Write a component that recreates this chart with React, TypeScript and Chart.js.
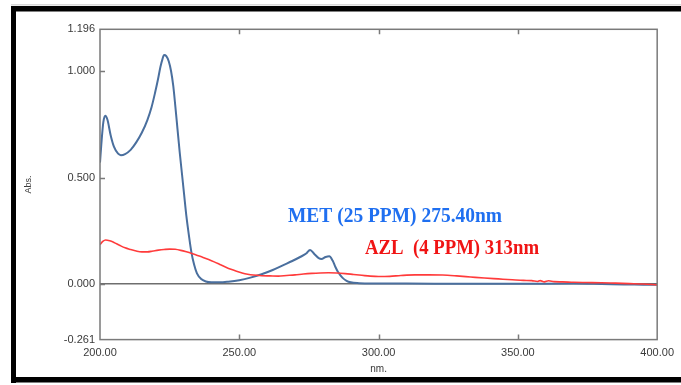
import React, { useEffect, useRef } from "react";
import { Chart, registerables } from "chart.js";

Chart.register(...registerables);

// ---- Data ----
const metWavelengths = [
  200.0, 200.5, 201.2, 201.9, 202.7, 203.8, 205.0, 206.5, 207.5, 209.0, 211.0, 213.0, 215.0, 217.0,
  218.5, 219.8, 220.8, 221.7, 222.4, 223.0, 223.8, 224.7, 225.5, 226.3, 227.0, 227.8, 228.6, 229.4,
  230.2, 231.0, 231.9, 232.8, 233.8, 234.8, 236.2, 238.0, 240.0, 243.0, 246.0, 250.0, 254.0, 258.0,
  262.0, 266.0, 269.0, 272.0, 274.0, 275.4, 277.0, 278.5, 279.5, 281.0, 282.3, 283.5, 284.5, 285.5,
  287.0, 288.5, 290.0, 293.0, 297.0, 310.0, 330.0, 350.0, 370.0, 380.0, 388.0, 395.0, 400.0,
];
const metAbsorbance = [
  0.57, 0.66, 0.76, 0.79, 0.77, 0.70, 0.645, 0.612, 0.605, 0.61, 0.63, 0.665, 0.71, 0.77,
  0.83, 0.90, 0.96, 1.02, 1.055, 1.075, 1.07, 1.045, 1.0, 0.93, 0.84, 0.73, 0.62, 0.52,
  0.42, 0.32, 0.23, 0.15, 0.09, 0.05, 0.025, 0.012, 0.008, 0.008, 0.011, 0.018, 0.03, 0.046,
  0.066, 0.09, 0.108, 0.128, 0.143, 0.16, 0.14, 0.122, 0.118, 0.127, 0.13, 0.11, 0.08, 0.055,
  0.03, 0.015, 0.008, 0.004, 0.002, 0.002, 0.001, 0.001, 0.002, 0.0, -0.002, -0.003, -0.004,
];

const azlWavelengths = [
  200.0, 201.0, 202.0, 203.5, 205.0, 207.0, 209.0, 211.0, 213.0, 215.0, 217.0, 219.0, 221.0, 223.0,
  225.0, 227.0, 229.0, 231.0, 233.0, 235.0, 237.0, 239.0, 241.0, 243.0, 245.0, 247.0, 249.0, 251.0,
  253.0, 255.0, 258.0, 261.0, 264.0, 267.0, 270.0, 273.0, 276.0, 279.0, 282.0, 285.0, 288.0, 291.0,
  294.0, 297.0, 300.0, 304.0, 308.0, 313.0, 318.0, 323.0, 328.0, 333.0, 338.0, 343.0, 348.0, 352.0,
  355.0, 357.0, 358.0, 359.5, 361.0, 363.0, 366.0, 370.0, 375.0, 380.0, 385.0, 390.0, 395.0, 400.0,
];
const azlAbsorbance = [
  0.185, 0.2, 0.207, 0.203, 0.195, 0.182, 0.17, 0.162, 0.155, 0.151, 0.151, 0.155, 0.159, 0.162,
  0.164, 0.163, 0.158, 0.151, 0.143, 0.134, 0.125, 0.115, 0.104, 0.092, 0.08, 0.069, 0.06, 0.052,
  0.046, 0.042, 0.039, 0.038, 0.037, 0.04, 0.043, 0.047, 0.05, 0.052, 0.053, 0.052, 0.049, 0.045,
  0.041, 0.037, 0.035, 0.036, 0.04, 0.043, 0.043, 0.042, 0.038, 0.033, 0.028, 0.024, 0.02, 0.017,
  0.016, 0.012, 0.016, 0.01, 0.015, 0.011, 0.01, 0.008, 0.007, 0.006, 0.004, 0.002, 0.0, -0.004,
];

const xTickValues = [200, 250, 300, 350, 400];
const yTickValues = [-0.261, 0, 0.5, 1.0, 1.196];
const innerTickXValues = [250, 300, 350];
const innerTickYValues = [0, 0.5, 1.0];

const metLabel = "MET (25 PPM) 275.40nm";
const azlLabel = "AZL  (4 PPM) 313nm";
const xTitle = "nm.";
const yTitle = "Abs.";

const SANS = '"Liberation Sans", Arial, sans-serif';
const SERIF = '"Liberation Serif", "Times New Roman", serif';
const TEXT_COLOR = "#3a3a3a";

const framePlugin = {
  id: "frame",
  beforeDraw(chart: any) {
    const ctx = chart.ctx;
    ctx.save();
    ctx.fillStyle = "#ffffff";
    ctx.fillRect(0, 0, chart.width, chart.height);
    ctx.fillStyle = "#d8d8d8";
    ctx.fillRect(11, 4, 670, 1.5);
    ctx.fillStyle = "#000000";
    ctx.fillRect(11, 6, 670, 5.5);
    ctx.fillRect(11, 6, 5, 377);
    ctx.fillRect(11, 377, 670, 5.5);
    ctx.restore();
  },
  afterDraw(chart: any) {
    const ctx = chart.ctx;
    const { left, right, top, bottom } = chart.chartArea;
    const xs = chart.scales.x;
    const ys = chart.scales.y;
    ctx.save();
    ctx.strokeStyle = "#7a7a7a";
    ctx.lineWidth = 1.5;
    ctx.strokeRect(left, top, right - left, bottom - top);
    ctx.beginPath();
    innerTickYValues.forEach((v) => {
      const py = Math.round(ys.getPixelForValue(v)) + 0.5;
      ctx.moveTo(left, py);
      ctx.lineTo(left + 5, py);
    });
    innerTickXValues.forEach((v) => {
      const px = Math.round(xs.getPixelForValue(v)) + 0.5;
      ctx.moveTo(px, top);
      ctx.lineTo(px, top + 5);
      ctx.moveTo(px, bottom);
      ctx.lineTo(px, bottom - 5);
    });
    ctx.stroke();

    ctx.textBaseline = "middle";
    ctx.textAlign = "left";
    ctx.font = `bold 20px ${SERIF}`;
    ctx.fillStyle = "#1f6ff0";
    ctx.fillText(metLabel, 288, 217, 214);
    ctx.fillStyle = "#f01414";
    ctx.fillText(azlLabel, 365, 249, 174);
    ctx.restore();
  },
};

export default function App() {
  const canvasRef = useRef<HTMLCanvasElement | null>(null);

  useEffect(() => {
    if (!canvasRef.current) return;
    const metData = metWavelengths.map((x, i) => ({ x, y: metAbsorbance[i] }));
    const azlData = azlWavelengths.map((x, i) => ({ x, y: azlAbsorbance[i] }));

    const chart = new Chart(canvasRef.current, {
      type: "line",
      data: {
        datasets: [
          {
            label: "AZL",
            data: azlData,
            borderColor: "#ff3b3b",
            borderWidth: 1.6,
            pointRadius: 0,
            cubicInterpolationMode: "monotone",
          },
          {
            label: "MET",
            data: metData,
            borderColor: "#4a6f9e",
            borderWidth: 2,
            pointRadius: 0,
            cubicInterpolationMode: "monotone",
          },
        ],
      },
      options: {
        animation: false,
        responsive: false,
        devicePixelRatio: 1,
        layout: { padding: { top: 29.3, right: 19, bottom: 0, left: 0 } },
        plugins: {
          legend: { display: false },
          tooltip: { enabled: false },
        },
        scales: {
          x: {
            type: "linear",
            min: 200,
            max: 400,
            afterBuildTicks: (s: any) => {
              s.ticks = xTickValues.map((v) => ({ value: v }));
            },
            afterFit: (s: any) => {
              s.height = 45.4;
            },
            ticks: {
              callback: (v: any) => Number(v).toFixed(2),
              font: { family: SANS, size: 11 },
              color: TEXT_COLOR,
              padding: 7,
              maxRotation: 0,
              autoSkip: false,
            },
            grid: { display: false, drawTicks: false },
            border: { display: false },
            title: {
              display: true,
              text: xTitle,
              font: { family: SANS, size: 10 },
              color: TEXT_COLOR,
              padding: { top: 0, bottom: 10 },
            },
          },
          y: {
            type: "linear",
            min: -0.261,
            max: 1.196,
            afterBuildTicks: (s: any) => {
              s.ticks = yTickValues.map((v) => ({ value: v }));
            },
            afterFit: (s: any) => {
              s.width = 100;
            },
            ticks: {
              callback: (v: any) => Number(v).toFixed(3),
              font: { family: SANS, size: 11 },
              color: TEXT_COLOR,
              padding: 5,
              autoSkip: false,
            },
            grid: {
              drawTicks: false,
              lineWidth: 1.5,
              color: (c: any) => (c.tick && c.tick.value === 0 ? "#6e6e6e" : "rgba(0,0,0,0)"),
            },
            border: { display: false },
            title: {
              display: true,
              text: yTitle,
              font: { family: SANS, size: 9 },
              color: TEXT_COLOR,
              padding: { top: 23.5, bottom: 0 },
            },
          },
        },
      },
      plugins: [framePlugin],
    });
    return () => chart.destroy();
  }, []);

  return (
    <div style={{ position: "fixed", left: 0, top: 0, width: 681, height: 385 }}>
      <canvas ref={canvasRef} width={681} height={385} style={{ display: "block", width: 681, height: 385 }} />
    </div>
  );
}
